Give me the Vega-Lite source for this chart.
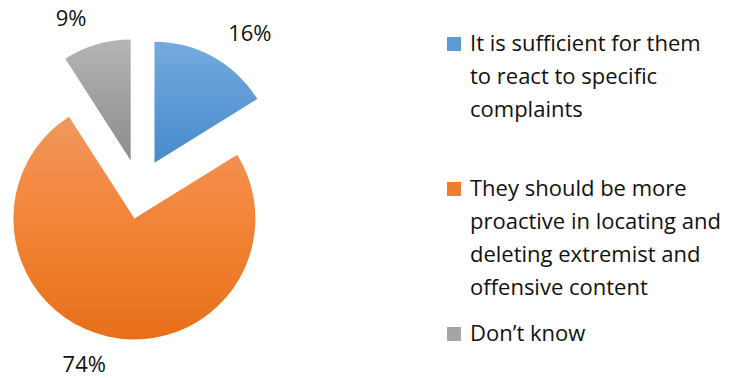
{
  "$schema": "https://vega.github.io/schema/vega-lite/v6.json",
  "width": 280,
  "height": 378,
  "autosize": "none",
  "padding": {"left": 0, "top": 0, "right": 456, "bottom": 0},
  "background": "white",
  "config": {"view": {"stroke": null}, "font": "Open Sans"},
  "data": {
    "values": [
      {"answer": "It is sufficient for them to react to specific complaints", "share": 0.16, "order": 1},
      {"answer": "They should be more proactive in locating and deleting extremist and offensive content", "share": 0.74, "order": 2},
      {"answer": "Don’t know", "share": 0.09, "order": 3}
    ]
  },
  "encoding": {
    "theta": {"field": "share", "type": "quantitative", "stack": true},
    "order": {"field": "order", "type": "quantitative"}
  },
  "layer": [
    {
      "mark": {"type": "arc", "radius": 0, "strokeWidth": 0},
      "encoding": {
        "color": {
          "field": "answer", "type": "nominal",
          "scale": {
            "domain": [
              "It is sufficient for them to react to specific complaints",
              "They should be more proactive in locating and deleting extremist and offensive content",
              "Don’t know"
            ],
            "range": ["#5B9BD5", "#ED7D31", "#A5A5A5"]
          },
          "legend": {
            "title": null,
            "orient": "none",
            "legendX": 443,
            "legendY": 33,
            "labelFontSize": 22,
            "labelFont": "Open Sans",
            "labelColor": "#111111",
            "labelLimit": 400,
            "labelOffset": 5,
            "rowPadding": 24,
            "gridAlign": "all",
            "symbolType": "square",
            "symbolSize": 196,
            "symbolStrokeWidth": 0,
            "labelExpr": "datum.value == 'Don’t know' ? datum.value : (indexof(datum.value, 'It is') == 0 ? ['It is sufficient for them', 'to react to specific', 'complaints'] : ['They should be more', 'proactive in locating and', 'deleting extremist and', 'offensive content'])",
            "encode": {"labels": {"update": {"lineHeight": {"value": 33}}}}
          }
        }
      }
    },
    {
      "mark": {"type": "arc", "radius": 121, "xOffset": 14.5, "yOffset": -26.3, "strokeWidth": 0,
        "fill": {"gradient": "linear", "x1": 0, "y1": 0, "x2": 0, "y2": 1, "stops": [{"offset": 0, "color": "#74AADF"}, {"offset": 1, "color": "#478ACD"}]}},
      "encoding": {
        "opacity": {"condition": {"test": "datum.order == 1", "value": 1}, "value": 0}
      }
    },
    {
      "mark": {"type": "arc", "radius": 121, "xOffset": -5.6, "yOffset": 29.5, "strokeWidth": 0,
        "fill": {"gradient": "linear", "x1": 0, "y1": 0, "x2": 0, "y2": 1, "stops": [{"offset": 0, "color": "#F0985F"}, {"offset": 0.3, "color": "#F48A44"}, {"offset": 0.6, "color": "#F0802F"}, {"offset": 1, "color": "#E86E1A"}]}},
      "encoding": {
        "opacity": {"condition": {"test": "datum.order == 2", "value": 1}, "value": 0}
      }
    },
    {
      "mark": {"type": "arc", "radius": 121, "xOffset": -9.3, "yOffset": -28.5, "strokeWidth": 0,
        "fill": {"gradient": "linear", "x1": 0, "y1": 0, "x2": 0, "y2": 1, "stops": [{"offset": 0, "color": "#B5B5B5"}, {"offset": 1, "color": "#8C8C8C"}]}},
      "encoding": {
        "opacity": {"condition": {"test": "datum.order == 3", "value": 1}, "value": 0}
      }
    },
    {
      "mark": {"type": "text", "radius": 155, "xOffset": 14.5, "yOffset": -26.3, "dx": 20, "dy": 7, "fontSize": 22, "font": "Open Sans", "color": "#111111"},
      "encoding": {
        "text": {"field": "share", "type": "quantitative", "format": ".0%"},
        "opacity": {"condition": {"test": "datum.order == 1", "value": 1}, "value": 0}
      }
    },
    {
      "mark": {"type": "text", "radius": 155, "xOffset": -5.6, "yOffset": 29.5, "dx": -16, "dy": -5, "fontSize": 22, "font": "Open Sans", "color": "#111111"},
      "encoding": {
        "text": {"field": "share", "type": "quantitative", "format": ".0%"},
        "opacity": {"condition": {"test": "datum.order == 2", "value": 1}, "value": 0}
      }
    },
    {
      "mark": {"type": "text", "radius": 155, "xOffset": -9.3, "yOffset": -28.5, "dx": -16, "dy": 7, "fontSize": 22, "font": "Open Sans", "color": "#111111"},
      "encoding": {
        "text": {"field": "share", "type": "quantitative", "format": ".0%"},
        "opacity": {"condition": {"test": "datum.order == 3", "value": 1}, "value": 0}
      }
    }
  ]
}
